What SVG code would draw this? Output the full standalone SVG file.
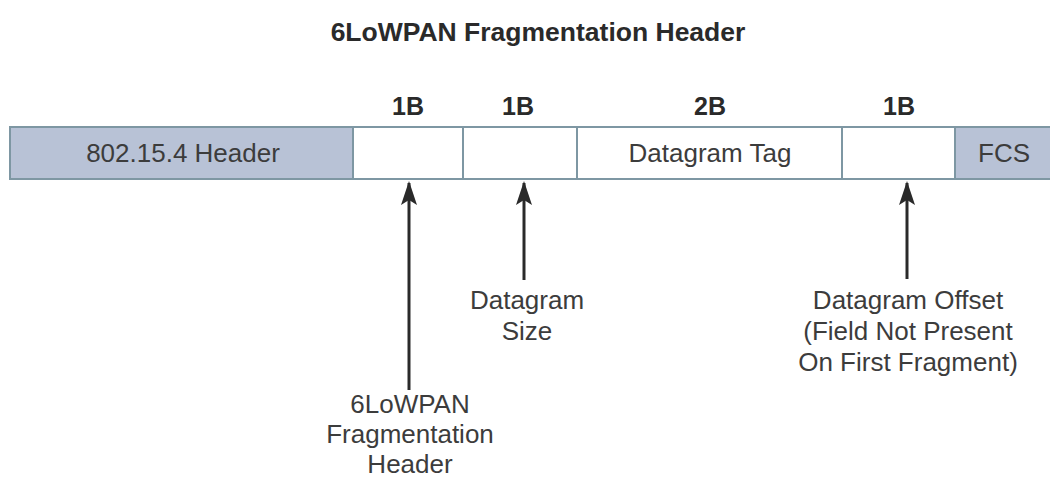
<svg xmlns="http://www.w3.org/2000/svg" width="1050" height="480" viewBox="0 0 1050 480">
<style>
.t{font-family:"Liberation Sans",Arial,sans-serif;font-size:26px;fill:#3c3c3c;text-anchor:middle}
.b{font-family:"Liberation Sans",Arial,sans-serif;font-size:25px;font-weight:bold;fill:#2a2a2a;text-anchor:middle}
.ttl{font-size:26.5px}
.shaded{fill:#b8c2d6;stroke:#7e97a3;stroke-width:2}
.plain{fill:#ffffff;stroke:#7e97a3;stroke-width:2}
.arr{stroke:#2a2a2a;stroke-width:3;fill:none;marker-end:url(#ah)}
</style>
<defs>
<marker id="ah" markerWidth="24" markerHeight="16" refX="22" refY="8" orient="auto" markerUnits="userSpaceOnUse" viewBox="0 0 24 16">
<path d="M24 8 L0 0 L5 8 L0 16 Z" fill="#2a2a2a"/>
</marker>
</defs>
<rect width="1050" height="480" fill="#ffffff"/>
<text class="b ttl" x="538" y="41">6LoWPAN Fragmentation Header</text>
<g id="hdr"><rect class="shaded" x="10" y="127" width="343" height="52"/><text class="t" x="183" y="162">802.15.4 Header</text></g>
<g id="frag"><rect class="plain" x="353" y="127" width="110" height="52"/><text class="b" x="408" y="115">1B</text></g>
<g id="size"><rect class="plain" x="463" y="127" width="114" height="52"/><text class="b" x="518" y="115">1B</text></g>
<g id="tag"><rect class="plain" x="577" y="127" width="265" height="52"/><text class="t" x="710" y="162">Datagram Tag</text><text class="b" x="710" y="115">2B</text></g>
<g id="offset"><rect class="plain" x="842" y="127" width="113" height="52"/><text class="b" x="899" y="115">1B</text></g>
<g id="fcs"><rect class="shaded" x="955" y="127" width="100" height="52"/><text class="t" x="1004" y="162">FCS</text></g>
<g id="connectors">
<line class="arr" x1="409" y1="390" x2="409" y2="183"/>
<line class="arr" x1="524" y1="280" x2="524" y2="183"/>
<line class="arr" x1="907" y1="279" x2="907" y2="183"/>
</g>
<g id="lbl-frag"><text class="t" x="410" y="413">6LoWPAN</text><text class="t" x="410" y="443">Fragmentation</text><text class="t" x="410" y="473">Header</text></g>
<g id="lbl-size"><text class="t" x="527" y="309">Datagram</text><text class="t" x="527" y="340">Size</text></g>
<g id="lbl-offset"><text class="t" x="908" y="309">Datagram Offset</text><text class="t" x="908" y="340">(Field Not Present</text><text class="t" x="908" y="371">On First Fragment)</text></g>
</svg>
